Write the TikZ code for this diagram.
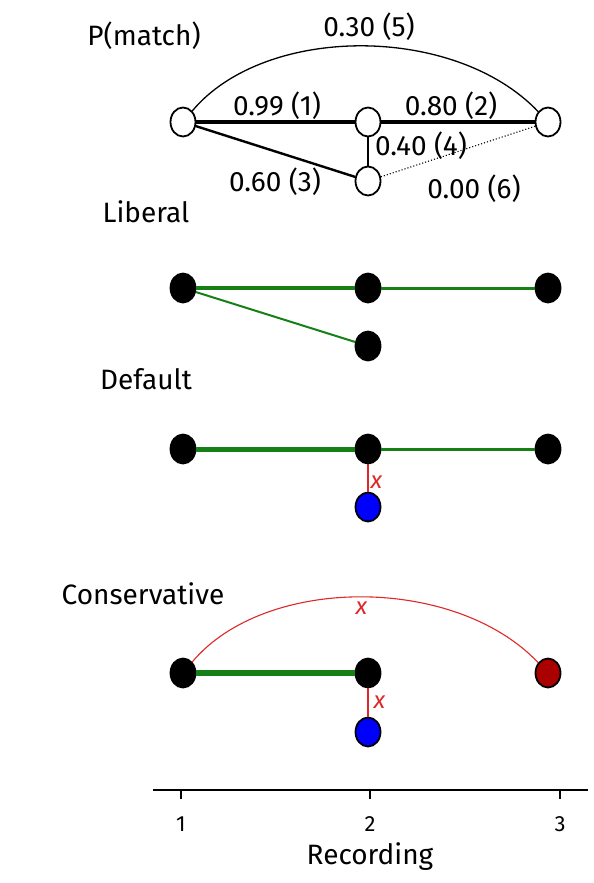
\documentclass[tikz,border=0pt]{standalone}
\usepackage{fontspec}
\setmainfont{Fira Sans}
\usetikzlibrary{shapes.geometric}
\definecolor{matchgreen}{RGB}{22,128,22}
\definecolor{nogored}{RGB}{222,40,40}
\definecolor{dropblue}{RGB}{0,0,255}
\definecolor{lostred}{RGB}{170,0,0}
\begin{document}
\begin{tikzpicture}[x=1pt, y=-1pt,
        every node/.style={font=\fontsize{28}{32}\selectfont},
        rec/.style={ellipse, draw, line width=1.8pt, inner sep=0pt,
            minimum width=25pt, minimum height=29pt},
        open/.style={rec, fill=white},
        kept/.style={rec, fill=black},
        cut/.style={rec, fill=dropblue},
        lost/.style={rec, fill=lostred},
        prob/.style={line width=#1, draw=black},
        link/.style={line width=#1, draw=matchgreen},
        nogo/.style={line width=1.1pt, draw=nogored},
        xmark/.style={font=\fontsize{24}{28}\selectfont\itshape, text=nogored, inner sep=2pt},
        title/.style={anchor=center},
        tick/.style={font=\fontsize{22}{26}\selectfont}
      ]
      \useasboundingbox (0,0) rectangle (594,883);
      % P(match)
      \node[title] (ptitle) at (144,36) {P(match)};
      \node[open] (a1) at (183,122) {};
      \node[open] (b1) at (368,122) {};
      \node[open] (c1) at (548,122) {};
      \node[open] (d1) at (368,181) {};
      \draw[prob=1.3pt] (a1) .. controls (265,24) and (455,24) .. (c1);
      \draw[prob=4pt] (a1) -- (b1);
      \draw[prob=3.2pt] (b1) -- (c1);
      \draw[prob=2.4pt] (a1) -- (d1);
      \draw[prob=1.4pt] (b1) -- (d1);
      \draw[line width=1.1pt, dotted] (d1) -- (c1);
      \node (p5) at (369,27)  {0.30 (5)};
      \node (p1) at (277,106) {0.99 (1)};
      \node (p2) at (451,106) {0.80 (2)};
      \node (p4) at (421,146) {0.40 (4)};
      \node (p3) at (275,182) {0.60 (3)};
      \node (p6) at (474,189) {0.00 (6)};
      % Liberal
      \node[title] (ltitle) at (146,212) {Liberal};
      \node[kept] (a2) at (183,288) {};
      \node[kept] (b2) at (368,288) {};
      \node[kept] (c2) at (548,288) {};
      \node[kept] (d2) at (368,346) {};
      \draw[link=4.5pt] (a2) -- (b2);
      \draw[link=3pt] (b2) -- (c2);
      \draw[link=2pt] (a2) -- (d2);
      % Default
      \node[title] (dtitle) at (146,379) {Default};
      \node[kept] (a3) at (183,449) {};
      \node[kept] (b3) at (368,449) {};
      \node[kept] (c3) at (548,449) {};
      \node[cut] (d3) at (368,507) {};
      \draw[link=5pt] (a3) -- (b3);
      \draw[link=3pt] (b3) -- (c3);
      \draw[nogo] (b3) -- node[xmark, right, yshift=-4pt] {x} (d3);
      % Conservative
      \node[title] (ctitle) at (143,594) {Conservative};
      \node[kept] (a4) at (183,673) {};
      \node[kept] (b4) at (368,673) {};
      \node[lost] (c4) at (548,673) {};
      \node[cut] (d4) at (368,732) {};
      \draw[nogo] (a4) .. controls (265,575) and (455,575) .. node[xmark, below=2pt] {x} (c4);
      \draw[link=5.5pt] (a4) -- (b4);
      \draw[nogo] (b4) -- node[xmark, right=3pt] {x} (d4);
      % axis
      \coordinate (ax0) at (153,790);
      \coordinate (ax1) at (588,790);
      \draw[line width=1.1pt] (ax0) -- (ax1);
      \foreach \n/\xx in {1/181,2/370,3/560} {
        \draw[line width=1.1pt] (\xx,790) -- (\xx,799);
        \node[tick] (t\n) at (\xx,824) {\n};
      }
      \node (xlabel) at (370,857) {Recording};
    \end{tikzpicture}
\end{document}
